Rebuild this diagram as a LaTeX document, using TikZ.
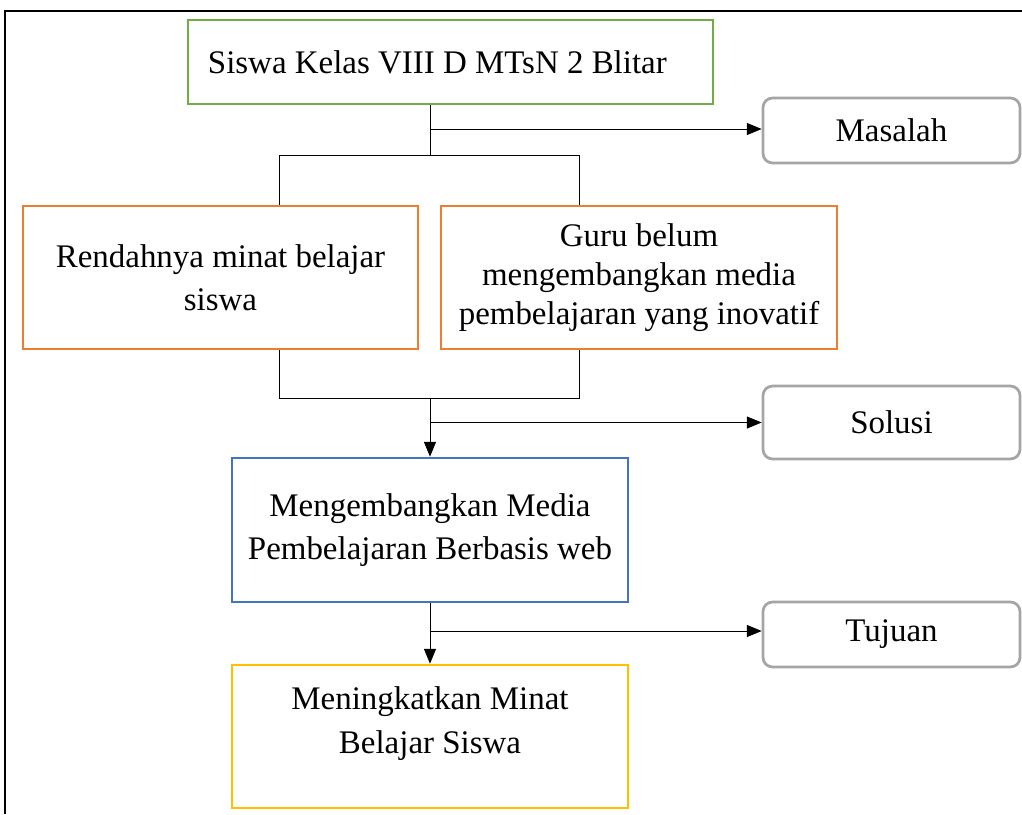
\documentclass[tikz,border=0pt]{standalone}
\usepackage{fontspec}
\setmainfont{Liberation Serif}
\usetikzlibrary{arrows.meta}
\definecolor{kotakhijau}{RGB}{112,173,71}
\definecolor{kotakoranye}{RGB}{237,125,49}
\definecolor{kotakbiru}{RGB}{68,114,196}
\definecolor{kotakkuning}{RGB}{255,192,0}
\definecolor{kotakabu}{RGB}{165,165,165}
\tikzset{
	kotak/.style={draw, line width = 0.35mm, inner sep=0pt, align=center,
		font=\fontsize{12}{15.5}\selectfont,
		execute at begin node={\spaceskip=3pt\relax}},
	kotakket/.style={kotak, draw=kotakabu, rounded corners=3.5pt,
		minimum width=3.29cm},
	panah/.style={line width = 0.1mm, -{Triangle[length=5.4pt,width=4.4pt]}},
	garis/.style={line width = 0.1mm}
}
\begin{document}
\begin{tikzpicture}[x=0.0128cm,y=-0.0128cm]
	\useasboundingbox (0,0) rectangle (1022,814);
	\draw[line width = 0.2mm] (5,814) -- (5,11) -- (1022,11);
	
	\node[kotak, draw=kotakhijau, minimum width=6.72cm, minimum height=1.075cm,
		text width=6.21cm, align=left] (siswa) at (450.5,62) {Siswa Kelas VIII D MTsN 2 Blitar};
	\node[kotak, draw=kotakoranye, minimum width=5.056cm, minimum height=1.83cm,
		text width=4.8cm] (rendah) at (220.5,277.5) {Rendahnya minat belajar\\siswa};
	\node[kotak, draw=kotakoranye, minimum width=5.07cm, minimum height=1.83cm,
		text width=4.9cm, font=\fontsize{12}{14.2}\selectfont] (guru) at (639,277.5) {Guru belum\\mengembangkan media\\pembelajaran yang inovatif};
	\node[kotak, draw=kotakbiru, minimum width=5.07cm, minimum height=1.843cm,
		text width=4.9cm] (media) at (430,530) {Mengembangkan Media\\Pembelajaran Berbasis web};
	\node[kotak, draw=kotakkuning, minimum width=5.07cm, minimum height=1.83cm,
		text width=4.9cm, font=\fontsize{12}{16}\selectfont] (minat) at (430,736.5) {Meningkatkan Minat\\Belajar Siswa\\[-4.3pt]\mbox{}};
	
	\node[kotakket, minimum height=0.832cm] (masalah) at (891.5,130.5) {Masalah};
	\node[kotakket, minimum height=0.934cm] (solusi) at (891.5,422.5) {Solusi};
	\node[kotakket, minimum height=0.832cm] (tujuan) at (891.5,634.5) {Tujuan};
	
	\coordinate (cabang1) at (279,155);
	\coordinate (cabang2) at (579,155);
	\coordinate (gabung1) at (279,398);
	\coordinate (gabung2) at (579,398);
	
	% masalah
	\draw[garis] (siswa.south -| media.north) -- (media.north |- cabang1);
	\draw[garis] (cabang1 |- rendah.north) -- (cabang1) -- (cabang2) -- (cabang2 |- guru.north);
	\draw[panah] (media.north |- 0,129) -- (masalah.west |- 0,129);
	
	% solusi
	\draw[garis] (gabung1 |- rendah.south) -- (gabung1) -- (gabung2) -- (gabung2 |- guru.south);
	\draw[panah] (media.north |- gabung1) -- (media.north);
	\draw[panah] (solusi.west -| media.north) -- (solusi.west);
	
	% tujuan
	\draw[panah] (media.south) -- (minat.north);
	\draw[panah] (media.south |- 0,631) -- (tujuan.west |- 0,631);
\end{tikzpicture}
\end{document}
